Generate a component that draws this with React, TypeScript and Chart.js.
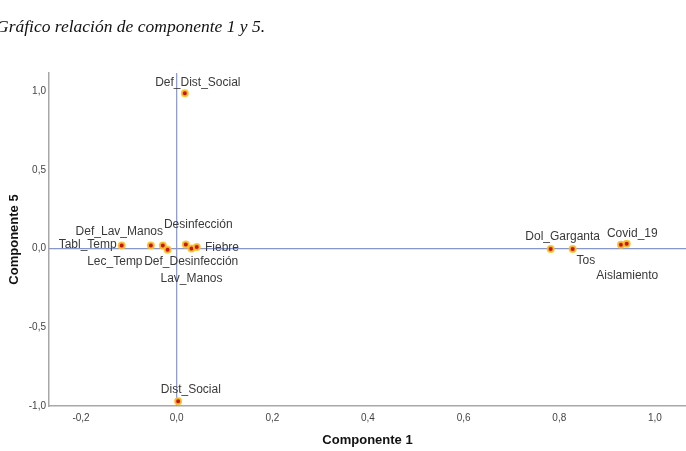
import { useEffect, useRef } from "react";
import { Chart, registerables } from "chart.js";

Chart.register(...registerables);

// Variable names and their loadings on components 1 and 5
const variables = [
  "Def_Dist_Social",
  "Dist_Social",
  "Tabl_Temp",
  "Lec_Temp",
  "Def_Lav_Manos",
  "Def_Desinfección",
  "Desinfección",
  "Lav_Manos",
  "Fiebre",
  "Dol_Garganta",
  "Tos",
  "Aislamiento",
  "Covid_19",
];
const componente1 = [0.017, 0.003, -0.115, -0.054, -0.029, -0.019, 0.019, 0.031, 0.042, 0.782, 0.828, 0.929, 0.941];
const componente5 = [0.989, -0.97, 0.021, 0.021, 0.021, -0.006, 0.027, 0.002, 0.011, -0.002, -0.002, 0.025, 0.032];

const xTicks = [-0.2, 0.0, 0.2, 0.4, 0.6, 0.8, 1.0];
const yTicks = [-1.0, -0.5, 0.0, 0.5, 1.0];

const titleText = "Gráfico relación de componente 1 y 5.";
const xTitle = "Componente 1";
const yTitle = "Componente 5";

// Label placement: offset of the label centre from its point, in px
const labelOffset: Record<string, [number, number]> = {
  Def_Dist_Social: [13, -10.6],
  Dist_Social: [12.7, -11.7],
  Tabl_Temp: [-34, -0.7],
  Lec_Temp: [-36, 16],
  Def_Lav_Manos: [-43.5, -14],
  "Def_Desinfección": [23.6, 11.7],
  "Desinfección": [12.5, -19.7],
  Lav_Manos: [0, 30.6],
  Fiebre: [25.2, 0.4],
  Dol_Garganta: [12, -12],
  Tos: [13.3, 11.4],
  Aislamiento: [6.3, 31],
  Covid_19: [5.6, -10],
};

const SANS = "'Liberation Sans', Arial, sans-serif";
const SERIF = "'Liberation Serif', 'Times New Roman', serif";

const fmt = (v: number | string) => {
  const n = Number(v);
  const r = Math.abs(n) < 1e-9 ? 0 : n;
  return r.toFixed(1).replace(".", ",");
};

// Reference lines through the origin
const zeroLines = {
  id: "zeroLines",
  beforeDatasetsDraw(chart: any) {
    const { ctx, chartArea, scales } = chart;
    const x0 = scales.x.getPixelForValue(0);
    const y0 = scales.y.getPixelForValue(0);
    ctx.save();
    ctx.strokeStyle = "#8797cb";
    ctx.lineWidth = 1.2;
    ctx.beginPath();
    ctx.moveTo(x0, chartArea.top);
    ctx.lineTo(x0, chartArea.bottom);
    ctx.moveTo(chartArea.left, y0);
    ctx.lineTo(chartArea.right, y0);
    ctx.stroke();
    ctx.restore();
  },
};

// Variable names next to each point
const pointLabels = {
  id: "pointLabels",
  afterDatasetsDraw(chart: any) {
    const { ctx } = chart;
    const meta = chart.getDatasetMeta(0);
    ctx.save();
    ctx.font = `12px ${SANS}`;
    ctx.fillStyle = "#3a3a3a";
    ctx.textAlign = "center";
    ctx.textBaseline = "middle";
    meta.data.forEach((el: any, i: number) => {
      const name = variables[i];
      const [dx, dy] = labelOffset[name] || [0, -10];
      ctx.fillText(name, el.x + dx, el.y + dy);
    });
    ctx.restore();
  },
};

// Caption above the plot
const caption = {
  id: "caption",
  afterDraw(chart: any) {
    const { ctx } = chart;
    ctx.save();
    ctx.font = `italic 17.5px ${SERIF}`;
    ctx.fillStyle = "#111";
    ctx.textAlign = "left";
    ctx.textBaseline = "alphabetic";
    ctx.fillText(titleText, -4, 32);
    ctx.restore();
  },
};

export default function App() {
  const canvasRef = useRef<HTMLCanvasElement | null>(null);

  useEffect(() => {
    document.body.style.margin = "0";
    const canvas = canvasRef.current;
    if (!canvas) return;
    const points = variables.map((_, i) => ({ x: componente1[i], y: componente5[i] }));
    const chart = new Chart(canvas, {
      type: "scatter",
      data: {
        datasets: [
          {
            data: points,
            pointRadius: 3,
            pointBorderWidth: 2,
            pointBackgroundColor: "#c8141e",
            pointBorderColor: "rgba(250, 195, 40, 0.9)",
            pointHoverRadius: 3,
          },
        ],
      },
      options: {
        responsive: false,
        animation: false,
        devicePixelRatio: 1,
        layout: { autoPadding: false, padding: { top: 73, left: 0, right: 0, bottom: 0 } },
        plugins: {
          legend: { display: false },
          tooltip: { enabled: false },
          title: { display: false },
        },
        scales: {
          x: {
            type: "linear",
            min: -0.267,
            max: 1.065,
            grid: { display: false, drawTicks: false },
            border: { display: true, color: "#a8a8a8", width: 1.5 },
            ticks: {
              padding: 6,
              color: "#444",
              font: { family: SANS, size: 10 },
              callback: (v: any) => fmt(v),
            },
            afterBuildTicks: (s: any) => {
              s.ticks = xTicks.map((v) => ({ value: v }));
            },
            afterFit: (s: any) => {
              s.height = 45;
              s.paddingLeft = 0;
              s.paddingRight = 0;
            },
            title: {
              display: true,
              text: xTitle,
              color: "#111",
              font: { family: SANS, size: 13, weight: "bold" },
              padding: { top: 0, bottom: 3 },
            },
          },
          y: {
            type: "linear",
            min: -1.0,
            max: 1.117,
            grid: { display: false, drawTicks: false },
            border: { display: true, color: "#a8a8a8", width: 1.5 },
            ticks: {
              padding: 3,
              color: "#444",
              font: { family: SANS, size: 10 },
              callback: (v: any) => fmt(v),
            },
            afterBuildTicks: (s: any) => {
              s.ticks = yTicks.map((v) => ({ value: v }));
            },
            afterFit: (s: any) => {
              s.width = 49;
            },
            title: {
              display: true,
              text: yTitle,
              color: "#111",
              font: { family: SANS, size: 13, weight: "bold" },
              padding: { top: 7, bottom: 0 },
            },
          },
        },
      },
      plugins: [zeroLines, pointLabels, caption],
    });
    return () => chart.destroy();
  }, []);

  return (
    <div style={{ width: 686, height: 451, overflow: "hidden", background: "#fff" }}>
      <canvas ref={canvasRef} width={686} height={451} style={{ display: "block" }} />
    </div>
  );
}
